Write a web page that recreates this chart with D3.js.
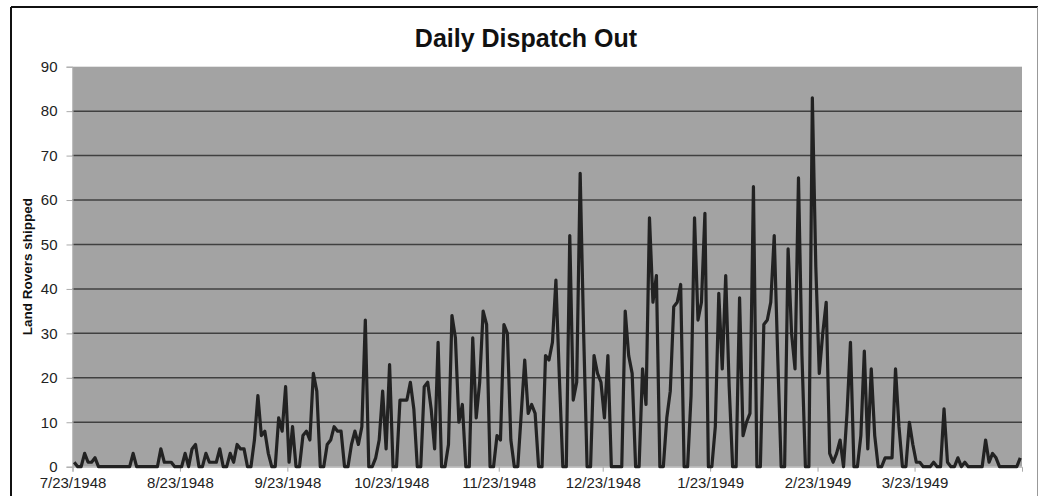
<!DOCTYPE html>
<html>
<head>
<meta charset="utf-8">
<script src="https://cdn.jsdelivr.net/npm/d3@7"></script>
<style>
  body { margin: 0; background: #fff; }
  text { font-family: "Liberation Sans", Arial, sans-serif; }
</style>
</head>
<body>
<div id="chart"></div>
<script>
// daily shipments, one value per day from the start date
const startDate = "7/23/1948";
const shipped = [
    1, 0, 0, 3, 1, 1, 2,
    0, 0, 0, 0, 0, 0, 0,
    0, 0, 0, 3, 0, 0, 0,
    0, 0, 0, 0, 4, 1, 1,
    1, 0, 0, 0, 3, 0, 4,
    5, 0, 0, 3, 1, 1, 1,
    4, 0, 0, 3, 1, 5, 4,
    4, 0, 0, 6, 16, 7, 8,
    3, 0, 0, 11, 8, 18, 1,
    9, 0, 0, 7, 8, 6, 21,
    17, 0, 0, 5, 6, 9, 8,
    8, 0, 0, 5, 8, 5, 9,
    33, 0, 0, 2, 6, 17, 4,
    23, 0, 0, 15, 15, 15, 19,
    13, 0, 0, 18, 19, 13, 4,
    28, 0, 0, 5, 34, 29, 10,
    14, 0, 0, 29, 11, 19, 35,
    32, 0, 0, 7, 6, 32, 30,
    6, 0, 0, 12, 24, 12, 14,
    12, 0, 0, 25, 24, 28, 42,
    20, 0, 0, 52, 15, 19, 66,
    30, 0, 0, 25, 21, 19, 11,
    25, 0, 0, 0, 0, 35, 25,
    21, 0, 0, 22, 14, 56, 37,
    43, 0, 0, 11, 17, 36, 37,
    41, 0, 0, 16, 56, 33, 37,
    57, 0, 0, 9, 39, 22, 43,
    18, 0, 0, 38, 7, 10, 12,
    63, 0, 0, 32, 33, 37, 52,
    25, 0, 0, 49, 30, 22, 65,
    25, 0, 0, 83, 45, 21, 30,
    37, 3, 1, 3, 6, 0, 12,
    28, 0, 0, 7, 26, 4, 22,
    7, 0, 0, 2, 2, 2, 22,
    9, 0, 0, 10, 5, 1, 1,
    0, 0, 0, 1, 0, 0, 13,
    1, 0, 0, 2, 0, 1, 0,
    0, 0, 0, 0, 6, 1, 3,
    2, 0, 0, 0, 0, 0, 0,
    2
];
const xTickLabels = ["7/23/1948", "8/23/1948", "9/23/1948", "10/23/1948", "11/23/1948",
    "12/23/1948", "1/23/1949", "2/23/1949", "3/23/1949"];
const axisEnd = "4/23/1949";
const yTicks = [0, 10, 20, 30, 40, 50, 60, 70, 80, 90];

const W = 1039, H = 496;
const plot = { left: 72.5, right: 1022, top: 66.7, bottom: 466.7 };

const parse = d3.timeParse("%m/%d/%Y");
const start = parse(startDate);
const data = shipped.map((v, i) => ({ date: d3.timeDay.offset(start, i), value: v }));

const svg = d3.select("#chart").append("svg")
    .attr("width", W)
    .attr("height", H);

svg.append("rect").attr("width", W).attr("height", H).attr("fill", "#fff");

// outer frame
svg.append("line").attr("x1", 11).attr("x2", 1038).attr("y1", 7).attr("y2", 7)
    .attr("stroke", "#111").attr("stroke-width", 2);
svg.append("line").attr("x1", 11).attr("x2", 11).attr("y1", 7).attr("y2", H)
    .attr("stroke", "#111").attr("stroke-width", 2);
svg.append("line").attr("x1", 1037.5).attr("x2", 1037.5).attr("y1", 7).attr("y2", H)
    .attr("stroke", "#999").attr("stroke-width", 1);

const x = d3.scaleTime()
    .domain([start, parse(axisEnd)])
    .range([plot.left, plot.right]);

const y = d3.scaleLinear()
    .domain([0, 90])
    .range([plot.bottom, plot.top]);

// plot area
svg.append("rect")
    .attr("x", plot.left)
    .attr("y", plot.top)
    .attr("width", plot.right - plot.left)
    .attr("height", plot.bottom - plot.top)
    .attr("fill", "#a3a3a3");

// gridlines
svg.append("g")
    .selectAll("line")
    .data(yTicks.filter(t => t > 0 && t < 90))
    .enter()
    .append("line")
    .attr("x1", plot.left)
    .attr("x2", plot.right)
    .attr("y1", d => y(d))
    .attr("y2", d => y(d))
    .attr("stroke", "#404040")
    .attr("stroke-width", 1.5);

// y axis
const yAxis = svg.append("g")
    .attr("transform", "translate(" + plot.left + ",0)")
    .call(d3.axisLeft(y).tickValues(yTicks).tickSize(6).tickPadding(9));
yAxis.select(".domain").attr("stroke", "#aaa");
yAxis.selectAll(".tick line").attr("stroke", "#aaa");
yAxis.selectAll("text")
    .attr("fill", "#222")
    .style("font-size", "15px");

// x axis
const xAxis = svg.append("g")
    .attr("transform", "translate(0," + plot.bottom + ")")
    .call(d3.axisBottom(x)
        .tickValues(xTickLabels.map(parse))
        .tickFormat((d, i) => xTickLabels[i])
        .tickSize(5)
        .tickPadding(6));
xAxis.select(".domain").attr("stroke", "#aaa");
xAxis.selectAll(".tick line").attr("stroke", "#aaa");
xAxis.selectAll("text")
    .attr("fill", "#222")
    .style("font-size", "15px");

// the series, each day plotted mid-day
const line = d3.line()
    .x(d => x(d3.timeHour.offset(d.date, 12)))
    .y(d => y(d.value));

svg.append("path")
    .datum(data)
    .attr("fill", "none")
    .attr("stroke", "#222")
    .attr("stroke-width", 3.2)
    .attr("stroke-linejoin", "round")
    .attr("d", line);

// titles
svg.append("text")
    .attr("x", 526)
    .attr("y", 46.5)
    .attr("text-anchor", "middle")
    .style("font-size", "25px")
    .style("font-weight", "bold")
    .attr("fill", "#111")
    .text("Daily Dispatch Out");

svg.append("text")
    .attr("transform", "translate(32," + ((plot.top + plot.bottom) / 2) + ") rotate(-90)")
    .attr("text-anchor", "middle")
    .style("font-size", "13.5px")
    .style("font-weight", "bold")
    .attr("fill", "#111")
    .text("Land Rovers shipped");
</script>
</body>
</html>
